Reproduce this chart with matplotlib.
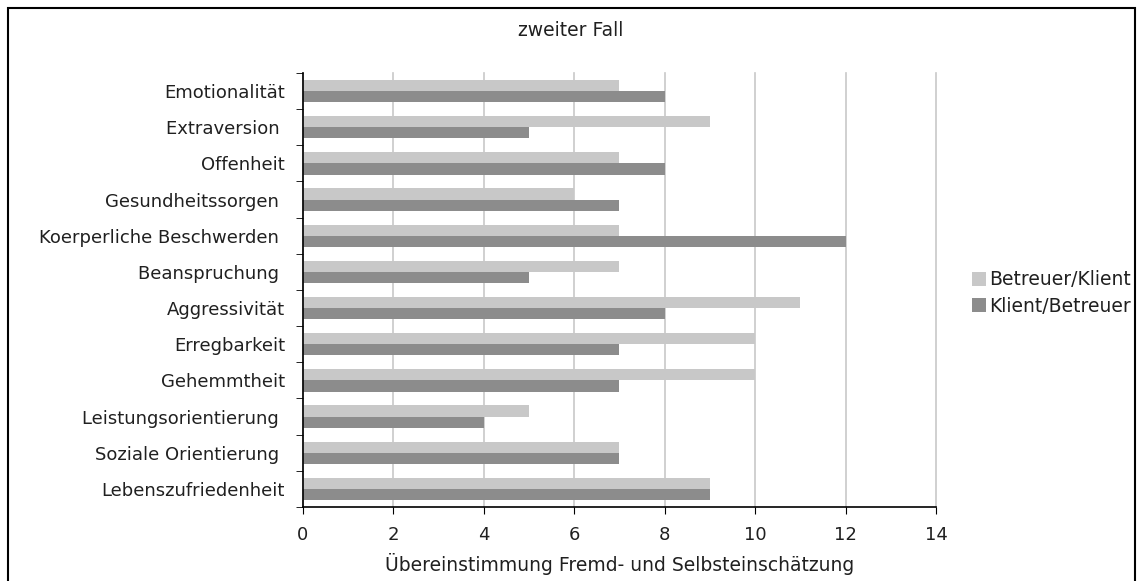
import numpy as np
import matplotlib.pyplot as plt
from matplotlib.patches import Rectangle

# data
categories = ["Emotionalität", "Extraversion ", "Offenheit", "Gesundheitssorgen ",
              "Koerperliche Beschwerden ", "Beanspruchung ", "Aggressivität", "Erregbarkeit",
              "Gehemmtheit", "Leistungsorientierung ", "Soziale Orientierung ", "Lebenszufriedenheit"]
betreuer_klient = [7, 9, 7, 6, 7, 7, 11, 10, 10, 5, 7, 9]
klient_betreuer = [8, 5, 8, 7, 12, 5, 8, 7, 7, 4, 7, 9]
xticks = [0, 2, 4, 6, 8, 10, 12, 14]

light = "#c8c8c8"
dark = "#8c8c8c"
txt = "#202020"
fs = 13.5

fig = plt.figure(figsize=(11.42, 5.81), dpi=100)
ax = fig.add_axes([0.2653, 0.1274, 0.8196 - 0.2653, 0.8744 - 0.1274])

y = np.arange(len(categories))
h = 0.31
ax.barh(y - h / 2, betreuer_klient, height=h, color=light, label="Betreuer/Klient", zorder=2)
ax.barh(y + h / 2, klient_betreuer, height=h, color=dark, label="Klient/Betreuer", zorder=2)

ax.set_ylim(len(categories) - 0.5, -0.5)
ax.set_xlim(0, 14)
ax.set_xticks(xticks)
ax.set_yticks(y)
ax.set_yticklabels(categories, fontsize=13, color=txt)
ax.set_yticks(np.arange(-0.5, len(categories), 1), minor=True)
ax.tick_params(axis="y", which="major", length=0, pad=13)
ax.tick_params(axis="y", which="minor", length=5, direction="out")
ax.tick_params(axis="x", length=5, direction="out", labelsize=13, pad=9, labelcolor=txt)

ax.grid(axis="x", color="#c8c8c8", linewidth=1.2, zorder=0)
for line in ax.get_xgridlines():
    line.set_clip_on(False)
ax.set_axisbelow(True)
for s in ["top", "right"]:
    ax.spines[s].set_visible(False)
ax.spines["left"].set_linewidth(1.2)
ax.spines["bottom"].set_linewidth(1.2)

ax.set_xlabel("Übereinstimmung Fremd- und Selbsteinschätzung", fontsize=fs,
              labelpad=6, color=txt)
fig.text(0.5, 1 - 31 / 581, "zweiter Fall", ha="center", va="center", fontsize=fs,
         color=txt)

fig.legend(loc="center left", bbox_to_anchor=(0.851, 1 - 293 / 581), frameon=False,
           fontsize=fs, handlelength=0.75, handleheight=0.75, handletextpad=0.15,
           labelspacing=0.4, borderpad=0, borderaxespad=0, labelcolor=txt)

# border round the whole chart
fig.patches.append(Rectangle((8 / 1142, -0.01), (1135 - 8) / 1142, 1.01 - 8 / 581,
                             transform=fig.transFigure, fill=False,
                             edgecolor="black", linewidth=1.5))

fig.savefig("out.png", dpi=100)
